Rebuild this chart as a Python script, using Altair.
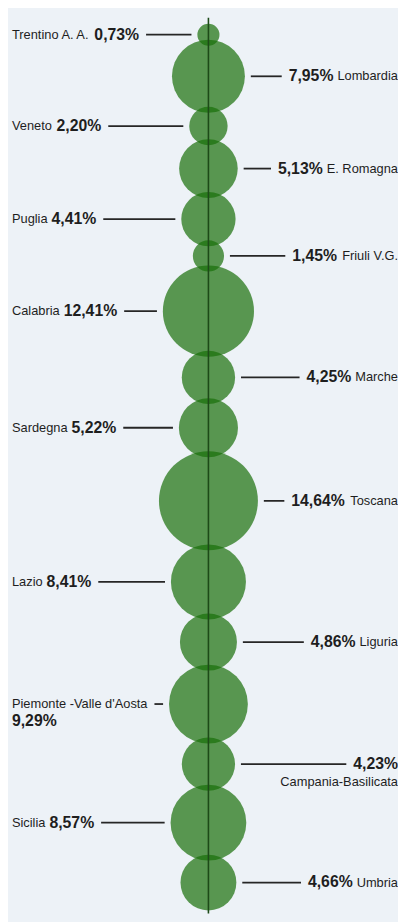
import math
import altair as alt
import pandas as pd

# ---------------- data ----------------
regions = ["Trentino A. A.", "Lombardia", "Veneto", "E. Romagna", "Puglia",
           "Friuli V.G.", "Calabria", "Marche", "Sardegna", "Toscana",
           "Lazio", "Liguria", "Piemonte -Valle d'Aosta", "Campania-Basilicata",
           "Sicilia", "Umbria"]
values = [0.73, 7.95, 2.20, 5.13, 4.41, 1.45, 12.41, 4.25, 5.22, 14.64,
          8.41, 4.86, 9.29, 4.23, 8.57, 4.66]
two_line = ["Piemonte -Valle d'Aosta", "Campania-Basilicata"]

# ---------------- layout ----------------
W, H = 390, 914
CX = 203
PX_PER_UNIT = 13.1          # radius px per sqrt(value)
OVERLAP = 6
TOP = 10
LEFT_X, RIGHT_X = 4, 395
FONT = "Liberation Sans"
NAME_SIZE, VAL_SIZE = 13, 16
GREEN = "#186f09"

AW = {'A': 667, 'B': 667, 'C': 722, 'E': 667, 'F': 611, 'G': 778, 'L': 556, 'M': 833,
      'P': 667, 'R': 722, 'S': 667, 'T': 611, 'U': 722, 'V': 667,
      'a': 556, 'b': 556, 'c': 500, 'd': 556, 'e': 556, 'g': 556, 'h': 556, 'i': 222,
      'l': 222, 'm': 833, 'n': 556, 'o': 556, 'p': 556, 'r': 333, 's': 500, 't': 278,
      'u': 556, 'z': 500, ' ': 278, '.': 278, '-': 333, "'": 191, ',': 278, '%': 889}


def text_w(s, size):
    return sum(AW.get(ch, 556) for ch in s) * size / 1000.0


def fmt(v):
    return f"{v:.2f}".replace(".", ",") + "%"


radii = [PX_PER_UNIT * math.sqrt(v) for v in values]
ys = []
for i, r in enumerate(radii):
    if i == 0:
        cy = TOP + r
    else:
        cy = ys[-1] + radii[i - 1] + r - OVERLAP
    ys.append(cy)

circles = pd.DataFrame({"region": regions, "value": values, "y": ys})

name_rows, val_rows, line_rows = [], [], []
for i, (reg, v, cy, r) in enumerate(zip(regions, values, ys, radii)):
    side = "left" if i % 2 == 0 else "right"
    vs = fmt(v)
    wn = text_w(reg, NAME_SIZE)
    wv = text_w(vs, VAL_SIZE)
    if side == "left":
        if reg in two_line:
            name_rows.append(dict(x=LEFT_X, y=cy, t=reg, side="left"))
            val_rows.append(dict(x=LEFT_X, y=cy + 17, t=vs, side="left"))
            x1 = LEFT_X + wn + 6
        else:
            name_rows.append(dict(x=LEFT_X, y=cy, t=reg, side="left"))
            val_rows.append(dict(x=LEFT_X + wn + 4, y=cy, t=vs, side="left"))
            x1 = LEFT_X + wn + 4 + wv + 7
        x2 = CX - r - 6
    else:
        if reg in two_line:
            val_rows.append(dict(x=RIGHT_X, y=cy, t=vs, side="right"))
            name_rows.append(dict(x=RIGHT_X, y=cy + 18, t=reg, side="right"))
            x2 = RIGHT_X - wv - 7
        else:
            name_rows.append(dict(x=RIGHT_X, y=cy, t=reg, side="right"))
            val_rows.append(dict(x=RIGHT_X - wn - 4, y=cy, t=vs, side="right"))
            x2 = RIGHT_X - wn - 4 - wv - 7
        x1 = CX + r + 6
    line_rows.append(dict(x=x1, x2=x2, y=cy))

names = pd.DataFrame(name_rows)
vals = pd.DataFrame(val_rows)
lines = pd.DataFrame(line_rows)
axis_df = pd.DataFrame({"x": [CX], "y": [ys[0] - radii[0] - 6], "y2": [ys[-1] + radii[-1] + 3]})

xs = alt.Scale(domain=[0, W], range=[0, W], nice=False, zero=False)
yscale = alt.Scale(domain=[0, H], range=[0, H], nice=False, zero=False)
size_scale = alt.Scale(type="linear", domain=[0, 15], range=[0, 4 * PX_PER_UNIT ** 2 * 15], zero=True)

circ = alt.Chart(circles).mark_circle(color=GREEN, opacity=0.7).encode(
    x=alt.X("cx:Q", scale=xs, axis=None),
    y=alt.Y("y:Q", scale=yscale, axis=None),
    size=alt.Size("value:Q", scale=size_scale, legend=None),
).transform_calculate(cx=str(CX))

vline = alt.Chart(axis_df).mark_rule(color="#1d4a18", strokeWidth=1.6).encode(
    x=alt.X("x:Q", scale=xs, axis=None),
    y=alt.Y("y:Q", scale=yscale, axis=None),
    y2="y2:Q",
)

leaders = alt.Chart(lines).mark_rule(color="#262626", strokeWidth=1.8).encode(
    x=alt.X("x:Q", scale=xs, axis=None),
    x2="x2:Q",
    y=alt.Y("y:Q", scale=yscale, axis=None),
)


def text_layer(df, side, weight, size):
    return alt.Chart(df).mark_text(
        align=side, baseline="middle", font=FONT, fontSize=size,
        fontWeight=weight, color="#1e1e1e"
    ).encode(
        x=alt.X("x:Q", scale=xs, axis=None),
        y=alt.Y("y:Q", scale=yscale, axis=None),
        text="t:N",
    ).transform_filter(alt.datum.side == side)


chart = alt.layer(
    circ, vline, leaders,
    text_layer(names, "left", "normal", NAME_SIZE),
    text_layer(names, "right", "normal", NAME_SIZE),
    text_layer(vals, "left", "bold", VAL_SIZE),
    text_layer(vals, "right", "bold", VAL_SIZE),
).properties(
    width=W, height=H, padding=0, background="#edf2f7"
).configure_view(stroke=None)

chart.save("out.html", embed_options={"renderer": "svg", "actions": False})
